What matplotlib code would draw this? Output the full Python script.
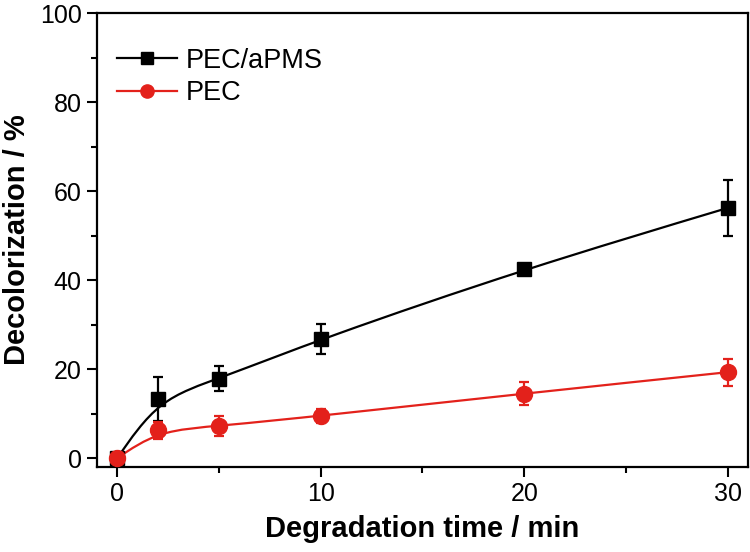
import numpy as np
import matplotlib.pyplot as plt
from matplotlib.path import Path
from matplotlib.patches import PathPatch

plt.rcParams['font.family'] = ['Liberation Sans', 'DejaVu Sans']

time_min = [0, 2, 5, 10, 20, 30]
pec_apms = [0, 13.3, 17.8, 26.8, 42.5, 56.2]
pec_apms_err = [1.0, 5.0, 2.8, 3.4, 1.0, 6.3]
pec = [0, 6.2, 7.2, 9.5, 14.5, 19.3]
pec_err = [1.2, 2.0, 2.2, 1.6, 2.5, 3.0]

BLACK = '#000000'
RED = '#e3211b'


def bspline_path(x, y):
    # cubic b-spline (data points = control points), ends pinned with phantom points
    p = np.column_stack([x, y]).astype(float)
    p = np.vstack([2 * p[0] - p[1], p, 2 * p[-1] - p[-2]])
    verts = [tuple((p[0] + 4 * p[1] + p[2]) / 6)]
    codes = [Path.MOVETO]
    for i in range(1, len(p) - 2):
        a, b, c = p[i], p[i + 1], p[i + 2]
        verts += [tuple((2 * a + b) / 3), tuple((a + 2 * b) / 3),
                  tuple((a + 4 * b + c) / 6)]
        codes += [Path.CURVE4] * 3
    return Path(verts, codes)


fig = plt.figure(figsize=(7.5, 5.52), dpi=100)
ax = fig.add_axes([0.1293, 0.154, 0.868, 0.8224])

for ys, errs, col, mk, ms, lms, lab in [
        (pec_apms, pec_apms_err, BLACK, 's', 10, 8.5, 'PEC/aPMS'),
        (pec, pec_err, RED, 'o', 11.5, 9.5, 'PEC')]:
    ax.add_patch(PathPatch(bspline_path(time_min, ys), fill=False,
                           edgecolor=col, linewidth=1.6, zorder=2))
    ax.errorbar(time_min, ys, yerr=errs, fmt=mk, color=col, markersize=ms,
                ecolor=col, elinewidth=1.6, capsize=3.5, capthick=1.6, zorder=3)
    ax.plot([], [], marker=mk, color=col, markersize=lms, linewidth=1.6, label=lab)

ax.set_xlim(-1, 31)
ax.set_ylim(-2, 100)
ax.set_xticks([0, 10, 20, 30])
ax.set_xticks([5, 15, 25], minor=True)
ax.set_yticks([0, 20, 40, 60, 80, 100])
ax.set_yticks([10, 30, 50, 70, 90], minor=True)
ax.tick_params(axis='both', which='major', direction='out', length=7, width=1.5,
               labelsize=18, pad=4)
ax.tick_params(axis='both', which='minor', direction='out', length=4, width=1.5)
for s in ax.spines.values():
    s.set_linewidth(1.6)

ax.set_xlabel('Degradation time / min', fontsize=21, fontweight='bold', labelpad=6)
ax.set_ylabel('Decolorization / %', fontsize=21, fontweight='bold', labelpad=6)

ax.legend(loc='upper left', frameon=False, fontsize=19.5, handlelength=2.2,
          handletextpad=0.35, labelspacing=0.24, borderaxespad=0, borderpad=0,
          bbox_to_anchor=(0.031, 0.924))

fig.savefig('out.png', dpi=100)
